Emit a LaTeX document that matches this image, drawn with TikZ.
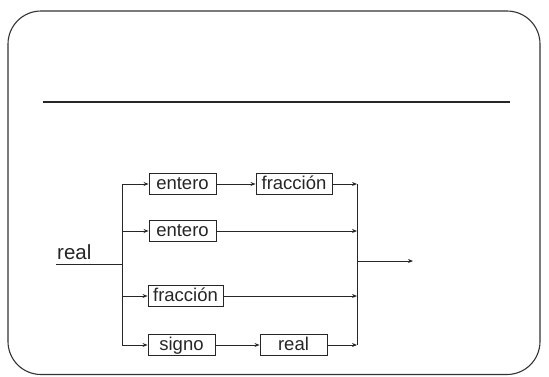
\documentclass[tikz,border=0pt]{standalone}
\usepackage{fontspec}
\setmainfont{Liberation Sans}
\usetikzlibrary{arrows.meta}
\begin{document}
\begin{tikzpicture}[x=1pt,y=-1pt,
  boxnode/.style={draw=black!85,line width=0.9pt,inner sep=0pt,minimum height=21pt,text height=14pt,text depth=2.5pt,font=\fontsize{18.5}{18.5}\selectfont,text=black!85},
  wire/.style={draw=black!85,line width=0.9pt},
  arr/.style={wire,-{Stealth[length=5pt,width=4pt]}},
  frame/.style={draw=black!80,line width=1.1pt,rounded corners=33pt}]
\useasboundingbox (0,0) rectangle (549,376);
\draw[frame] (8,11) rectangle (540,374.5);
\draw[wire,line width=1.1pt] (43,102) -- (510,102);
% boxes
\node[boxnode,minimum width=67pt] (ent1) at (182.5,184) {entero};
\node[boxnode,minimum width=76pt] (fra1) at (294,184) {fracción};
\node[boxnode,minimum width=67pt] (ent2) at (182.5,231) {entero};
\node[boxnode,minimum width=75pt] (fra2) at (185.5,296) {fracción};
\node[boxnode,minimum width=67pt] (sig) at (181.5,345) {signo};
\node[boxnode,minimum width=67pt] (rea) at (293.5,345) {real};
% input label
\node[anchor=base west,inner sep=0pt,font=\fontsize{20.5}{20.5}\selectfont,text=black!85] (lab) at (57,259) {real};
\coordinate (in) at (56,264);
\coordinate (lb) at (122,264);
\coordinate (lt) at (122,184);
\coordinate (lbot) at (122,345);
\coordinate (rt) at (357,184);
\coordinate (rbot) at (357,345);
\coordinate (rout) at (357,261);
\coordinate (out) at (413,261);
% buses
\draw[wire] (in) -- (lb);
\draw[wire] (lt) -- (lbot);
\draw[wire] (rt) -- (rbot);
% left branches
\draw[arr] (lt) -- (ent1.west);
\draw[arr] (ent2.west -| lt) -- (ent2.west);
\draw[arr] (fra2.west -| lt) -- (fra2.west);
\draw[arr] (lbot) -- (sig.west);
% inner arrows
\draw[arr] (ent1.east) -- (fra1.west);
\draw[arr] (sig.east) -- (rea.west);
% right branches
\draw[arr] (fra1.east) -- (fra1.east -| rt);
\draw[arr] (ent2.east) -- (ent2.east -| rt);
\draw[arr] (fra2.east) -- (fra2.east -| rt);
\draw[arr] (rea.east) -- (rea.east -| rt);
% output
\draw[arr] (rout) -- (out);
\end{tikzpicture}
\end{document}
